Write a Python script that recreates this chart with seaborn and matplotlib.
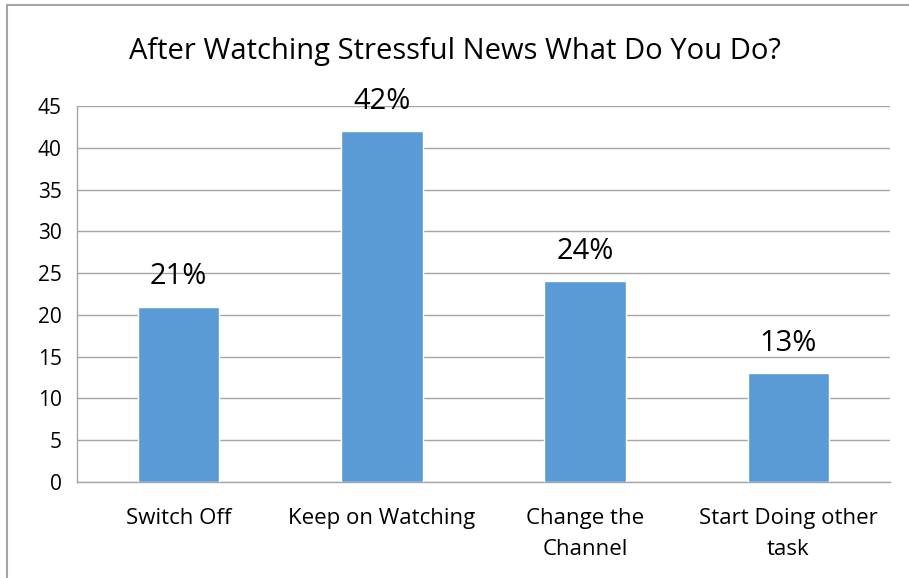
import matplotlib
matplotlib.use("Agg")
import matplotlib.pyplot as plt
from matplotlib.lines import Line2D
import seaborn as sns
import pandas as pd

categories = ["Switch Off", "Keep on Watching", "Change the\nChannel", "Start Doing other\ntask"]
values = [21, 42, 24, 13]
value_labels = ["21%", "42%", "24%", "13%"]
y_ticks = [0, 5, 10, 15, 20, 25, 30, 35, 40, 45]

sns.set_theme(style="white")
plt.rcParams["font.family"] = ["Open Sans", "DejaVu Sans"]

df = pd.DataFrame({"category": categories, "value": values})

W, H = 909, 578
fig = plt.figure(figsize=(W / 100, H / 100), dpi=100)
ax = fig.add_axes([77 / W, (H - 482) / H, (890 - 77) / W, (482 - 106) / H])

sns.barplot(data=df, x="category", y="value", color="#5B9BD5", width=0.4,
            saturation=1, ax=ax, zorder=3)

ax.set_ylim(0, 45)
ax.set_xlim(-0.5, len(categories) - 0.5)
ax.set_yticks(y_ticks)
ax.set_yticklabels([str(t) for t in y_ticks], fontsize=15)
ax.set_xlabel("")
ax.set_ylabel("")

grid_c = "#A6A6A6"
ax.yaxis.grid(True, color=grid_c, linewidth=1, zorder=0)
ax.set_axisbelow(True)
for side in ["top", "right"]:
    ax.spines[side].set_visible(False)
for side in ["left", "bottom"]:
    ax.spines[side].set_color(grid_c)
    ax.spines[side].set_linewidth(1)

# category boundary ticks below the axis
ax.set_xticks([i - 0.5 for i in range(len(categories) + 1)], minor=True)
ax.set_xticks(range(len(categories)))
ax.set_xticklabels(categories, fontsize=16, linespacing=1.6)
ax.tick_params(axis="x", which="major", length=0, pad=19)
ax.tick_params(axis="x", which="minor", length=6, color=grid_c, width=1, direction="out")
ax.tick_params(axis="y", length=6, color=grid_c, width=1, direction="out", pad=5)
ax.tick_params(axis="both", labelcolor="black")

for i, (v, lab) in enumerate(zip(values, value_labels)):
    ax.annotate(lab, xy=(i, v), xytext=(0, 16), textcoords="offset points",
                ha="center", va="baseline", fontsize=21, color="black")

fig.text(0.5, (H - 52) / H, "After Watching Stressful News What Do You Do?",
         ha="center", va="center", fontsize=21, color="black")

# chart frame: top and left edges
fig.lines.append(Line2D([7 / W, 1], [(H - 5) / H] * 2, transform=fig.transFigure,
                        color=grid_c, linewidth=1.5))
fig.lines.append(Line2D([7 / W] * 2, [0, (H - 5) / H], transform=fig.transFigure,
                        color=grid_c, linewidth=1.5))

fig.savefig("out.png", dpi=100)
